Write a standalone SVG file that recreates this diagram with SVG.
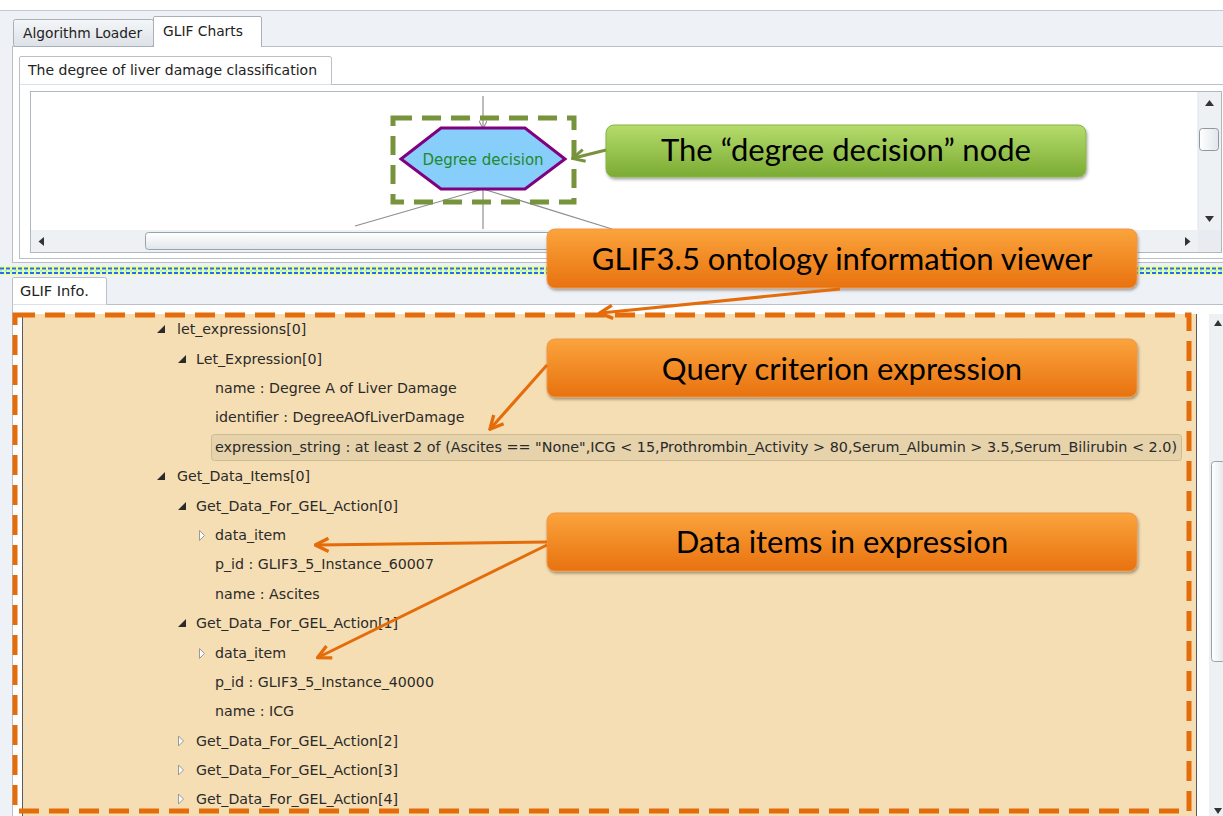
<svg xmlns="http://www.w3.org/2000/svg" width="1223" height="816" viewBox="0 0 1223 816">
  <defs>
    <linearGradient id="gGreen" x1="0" y1="0" x2="0" y2="1">
      <stop offset="0" stop-color="#b5dc6c"/>
      <stop offset="1" stop-color="#7aab33"/>
    </linearGradient>
    <linearGradient id="gOrange" x1="0" y1="0" x2="0" y2="1">
      <stop offset="0" stop-color="#fba43c"/>
      <stop offset="1" stop-color="#e8720f"/>
    </linearGradient>
    <linearGradient id="gTab" x1="0" y1="0" x2="0" y2="1">
      <stop offset="0" stop-color="#f4f6f8"/>
      <stop offset="1" stop-color="#dde2e8"/>
    </linearGradient>
    <linearGradient id="gThumbV" x1="0" y1="0" x2="1" y2="0">
      <stop offset="0" stop-color="#ffffff"/>
      <stop offset="1" stop-color="#e2e6ea"/>
    </linearGradient>
    <linearGradient id="gThumbH" x1="0" y1="0" x2="0" y2="1">
      <stop offset="0" stop-color="#ffffff"/>
      <stop offset="1" stop-color="#e2e6ea"/>
    </linearGradient>
    <filter id="shadow" x="-10%" y="-20%" width="120%" height="150%">
      <feDropShadow dx="1" dy="2" stdDeviation="1.5" flood-color="#000" flood-opacity="0.35"/>
    </filter>
    <marker id="arrGray" viewBox="0 0 10 10" refX="9" refY="5" markerWidth="7" markerHeight="7" orient="auto">
      <path d="M0,0 L10,5 L0,10" fill="none" stroke="#909090" stroke-width="1.3"/>
    </marker>
    <marker id="arrGreen" viewBox="0 0 10 10" refX="8" refY="5" markerWidth="5" markerHeight="5" orient="auto">
      <path d="M1,1 L9,5 L1,9" fill="none" stroke="#77933c" stroke-width="2"/>
    </marker>
    <marker id="arrOrange" viewBox="0 0 10 10" refX="8" refY="5" markerWidth="5.5" markerHeight="5.5" orient="auto">
      <path d="M1,1 L9,5 L1,9" fill="none" stroke="#e46c0a" stroke-width="2"/>
    </marker>
  </defs>
  <style>
    .ui { font-family: "DejaVu Sans", Verdana, sans-serif; font-size: 14.6px; fill: #222; }
    .page { font-family: "DejaVu Sans", Verdana, sans-serif; font-size: 14px; fill: #222; }
    .tab { font-family: "DejaVu Sans", Verdana, sans-serif; font-size: 13.8px; fill: #222; }
    .tree { font-family: "DejaVu Sans", Verdana, sans-serif; font-size: 14.2px; fill: #2a2a2a; }
    .callout { font-family: Lato, "Open Sans", sans-serif; font-size: 31px; fill: #000; text-anchor: middle; }
    .exp { fill: #2a2a2a; }
    .col { fill: #fafafa; stroke: #9a9a9a; stroke-width: 1; }
    .conn { fill: none; stroke: #8f8f8f; stroke-width: 1.2; }
    .greenArrow { fill: none; stroke: #77933c; stroke-width: 3; }
    .orangeArrow { fill: none; stroke: #e46c0a; stroke-width: 3; }
  </style>

  <!-- window background -->
  <rect x="0" y="0" width="1223" height="816" fill="#ffffff"/>
  <rect x="0" y="10" width="1223" height="806" fill="#eef2f7"/>
  <line x1="0" y1="10.5" x2="1223" y2="10.5" stroke="#c4cad2"/>

  <!-- upper tab control -->
  <g id="upper-tabs">
    <rect x="12.5" y="46.5" width="1212" height="216" fill="#ffffff" stroke="#b9c0c8"/>
    <rect x="13.5" y="19.5" width="140" height="27" rx="2" fill="url(#gTab)" stroke="#a9b0b8"/>
    <text class="tab" x="23" y="38">Algorithm Loader</text>
    <path d="M153.5,47 V17.5 Q153.5,16.5 155,16.5 H260 Q261.5,16.5 261.5,18 V47" fill="#ffffff" stroke="#a9b0b8"/>
    <text class="tab" x="163" y="36">GLIF Charts</text>
  </g>

  <!-- chart page -->
  <g id="chart-page">
    <rect x="19.5" y="84.5" width="1205" height="174" fill="#ffffff" stroke="#b9c0c8"/>
    <path d="M19.5,84.5 V58 Q19.5,56.5 21,56.5 H329 Q331.5,56.5 331.5,58 V84.5" fill="#ffffff" stroke="#b9c0c8"/>
    <text class="page" x="28" y="75">The degree of liver damage classification</text>
    <rect x="30.5" y="91.5" width="1191" height="161" fill="#ffffff" stroke="#b0b7bf"/>
  </g>

  <!-- chart scrollbars -->
  <g id="chart-scrollbars">
    <rect x="1198" y="92" width="23" height="138" fill="#eef1f4"/>
    <line x1="1198" y1="92" x2="1198" y2="252" stroke="#dfe3e8"/>
    <path d="M1205,106 L1209.5,100 L1214,106 Z" fill="#333"/>
    <path d="M1205,216 L1209.5,222 L1214,216 Z" fill="#333"/>
    <rect x="1199.5" y="128.5" width="19" height="22" rx="3" fill="url(#gThumbV)" stroke="#8f979f"/>
    <rect x="31" y="230" width="1167" height="22" fill="#eef1f4"/>
    <rect x="1198" y="230" width="23" height="22" fill="#e8ecf0"/>
    <path d="M44,237 L38.5,241.5 L44,246 Z" fill="#333"/>
    <path d="M1185,237 L1190.5,241.5 L1185,246 Z" fill="#333"/>
    <rect x="145.5" y="232.5" width="700" height="17" rx="3" fill="url(#gThumbH)" stroke="#9aa2aa"/>
  </g>

  <!-- chart connectors -->
  <g id="chart-connectors">
    <line class="conn" x1="483" y1="96" x2="483" y2="128" marker-end="url(#arrGray)"/>
    <line class="conn" x1="483" y1="189" x2="483" y2="229"/>
    <line class="conn" x1="483" y1="189" x2="355" y2="226"/>
    <line class="conn" x1="483" y1="189" x2="612" y2="229"/>
  </g>

  <!-- the decision node -->
  <g id="node-degree-decision">
    <polygon points="401,159 441,128 525,128 565,159 525,189 441,189" fill="#87cefa" stroke="#800080" stroke-width="3"/>
    <text x="483" y="164.5" font-family="'DejaVu Sans', Verdana, sans-serif" font-size="15" fill="#1f8a2a" text-anchor="middle">Degree decision</text>
    <rect x="393" y="118" width="181" height="84" fill="none" stroke="#77933c" stroke-width="5" stroke-dasharray="19,10"/>
  </g>

  <!-- splitter -->
  <g id="splitter">
    <rect x="0" y="266" width="1223" height="9" fill="#e9ff9a"/>
    <line x1="0" y1="268.5" x2="1223" y2="268.5" stroke="#2a6cf0" stroke-width="2" stroke-dasharray="4,2"/>
    <line x1="0" y1="273" x2="1223" y2="273" stroke="#2a6cf0" stroke-width="2" stroke-dasharray="4,2"/>
    <line x1="0" y1="270.8" x2="1223" y2="270.8" stroke="#7ff0ff" stroke-width="1.5" stroke-dasharray="2,3"/>
  </g>

  <!-- info tab control -->
  <g id="info-tabs">
    <rect x="12.5" y="304.5" width="1212" height="520" fill="#ffffff" stroke="#b9c0c8"/>
    <path d="M12.5,304.5 V279 Q12.5,277.5 14,277.5 H104 Q106.5,277.5 106.5,279 V304.5" fill="#ffffff" stroke="#b9c0c8"/>
    <text class="ui" x="20" y="296">GLIF Info.</text>
  </g>

  <!-- property tree -->
  <g id="property-tree">
    <rect x="22" y="314" width="1175" height="510" fill="#f5deb3"/>
    <line x1="22.5" y1="314" x2="22.5" y2="816" stroke="#555c66"/>
    <line x1="1196.5" y1="314" x2="1196.5" y2="816" stroke="#555c66"/>

    <rect x="211.5" y="434.5" width="970" height="26" rx="3" fill="#e6d2ab" stroke="#cdbb94"/>

    <g id="row-let-expressions">
      <path class="exp" d="M165,325 V333 H157 Z"/>
      <text class="tree" x="177" y="334">let_expressions[0]</text>
    </g>
    <g id="row-let-expression">
      <path class="exp" d="M186,355 V363 H178 Z"/>
      <text class="tree" x="196" y="364">Let_Expression[0]</text>
    </g>
    <text class="tree" x="215" y="393">name : Degree A of Liver Damage</text>
    <text class="tree" x="215" y="422">identifier : DegreeAOfLiverDamage</text>
    <text class="tree" x="215" y="452" textLength="962" lengthAdjust="spacingAndGlyphs">expression_string : at least 2 of (Ascites == "None",ICG &lt; 15,Prothrombin_Activity &gt; 80,Serum_Albumin &gt; 3.5,Serum_Bilirubin &lt; 2.0)</text>
    <g id="row-get-data-items">
      <path class="exp" d="M165,472 V480 H157 Z"/>
      <text class="tree" x="177" y="481">Get_Data_Items[0]</text>
    </g>
    <g id="row-action-0">
      <path class="exp" d="M186,502 V510 H178 Z"/>
      <text class="tree" x="196" y="511">Get_Data_For_GEL_Action[0]</text>
    </g>
    <g id="row-data-item-0">
      <path class="col" d="M199.5,530.5 L204.5,535.5 L199.5,540.5 Z"/>
      <text class="tree" x="215" y="540">data_item</text>
    </g>
    <text class="tree" x="215" y="569">p_id : GLIF3_5_Instance_60007</text>
    <text class="tree" x="215" y="599">name : Ascites</text>
    <g id="row-action-1">
      <path class="exp" d="M186,619 V627 H178 Z"/>
      <text class="tree" x="196" y="628">Get_Data_For_GEL_Action[1]</text>
    </g>
    <g id="row-data-item-1">
      <path class="col" d="M199.5,648.5 L204.5,653.5 L199.5,658.5 Z"/>
      <text class="tree" x="215" y="658">data_item</text>
    </g>
    <text class="tree" x="215" y="687">p_id : GLIF3_5_Instance_40000</text>
    <text class="tree" x="215" y="716">name : ICG</text>
    <g id="row-action-2">
      <path class="col" d="M178.5,736 L183.5,741 L178.5,746 Z"/>
      <text class="tree" x="196" y="746">Get_Data_For_GEL_Action[2]</text>
    </g>
    <g id="row-action-3">
      <path class="col" d="M178.5,765 L183.5,770 L178.5,775 Z"/>
      <text class="tree" x="196" y="775">Get_Data_For_GEL_Action[3]</text>
    </g>
    <g id="row-action-4">
      <path class="col" d="M178.5,794 L183.5,799 L178.5,804 Z"/>
      <text class="tree" x="196" y="804">Get_Data_For_GEL_Action[4]</text>
    </g>
  </g>

  <!-- tree scrollbar -->
  <g id="tree-scrollbar">
    <rect x="1209" y="314" width="14" height="502" fill="#eef1f4"/>
    <path d="M1214,326 L1218,320 L1222,326 Z" fill="#333"/>
    <path d="M1214,808 L1218,814 L1222,808 Z" fill="#333"/>
    <rect x="1211.5" y="461.5" width="14" height="200" rx="3" fill="url(#gThumbV)" stroke="#9aa2aa"/>
  </g>

  <!-- highlight frame around the info viewer -->
  <rect id="viewer-frame" x="15" y="315" width="1174" height="496" fill="none" stroke="#e46c0a" stroke-width="5" stroke-dasharray="20,10"/>

  <!-- callouts -->
  <g id="callout-node">
    <rect x="606" y="125" width="480" height="52" rx="8" fill="url(#gGreen)" stroke="#8ab449" filter="url(#shadow)"/>
    <text class="callout" x="846" y="161">The “degree decision” node</text>
  </g>
  <g id="callout-viewer">
    <rect x="547" y="229" width="590" height="59" rx="8" fill="url(#gOrange)" stroke="#f0964a" filter="url(#shadow)"/>
    <text class="callout" x="842" y="270">GLIF3.5 ontology information viewer</text>
  </g>
  <g id="callout-query">
    <rect x="547" y="339" width="590" height="58" rx="8" fill="url(#gOrange)" stroke="#f0964a" filter="url(#shadow)"/>
    <text class="callout" x="842" y="380">Query criterion expression</text>
  </g>
  <g id="callout-data-items">
    <rect x="547" y="513" width="590" height="58" rx="8" fill="url(#gOrange)" stroke="#f0964a" filter="url(#shadow)"/>
    <text class="callout" x="842" y="553">Data items in expression</text>
  </g>

  <!-- callout pointers -->
  <g id="connectors">
    <line class="greenArrow" x1="606" y1="150" x2="574" y2="158" marker-end="url(#arrGreen)"/>
    <line class="orangeArrow" x1="840" y1="289" x2="601" y2="313" marker-end="url(#arrOrange)"/>
    <line class="orangeArrow" x1="547" y1="365" x2="491" y2="428" marker-end="url(#arrOrange)"/>
    <line class="orangeArrow" x1="547" y1="542" x2="317" y2="545" marker-end="url(#arrOrange)"/>
    <line class="orangeArrow" x1="547" y1="545" x2="319" y2="657" marker-end="url(#arrOrange)"/>
  </g>
</svg>
